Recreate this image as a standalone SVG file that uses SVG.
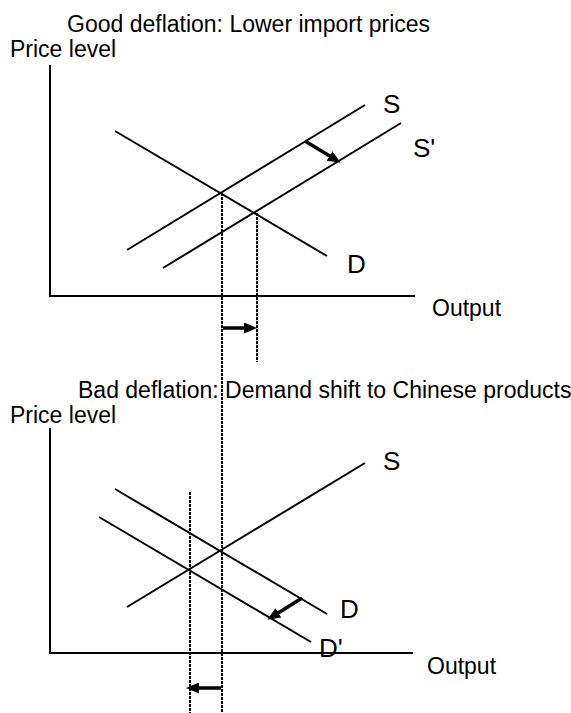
<svg xmlns="http://www.w3.org/2000/svg" width="571" height="713" viewBox="0 0 571 713">
<style>
text{font-family:"Liberation Sans",Arial,sans-serif;fill:#000}
.t{font-size:23px}
.lb{font-size:26px}
.ln{stroke:#000;stroke-width:2;fill:none}
.dot{stroke:#000;stroke-width:2;stroke-dasharray:3 1;fill:none}
.arr{stroke:#000;stroke-width:3.5;fill:none;marker-end:url(#ah)}
</style>
<defs>
<marker id="ah" markerUnits="userSpaceOnUse" markerWidth="13" markerHeight="11" refX="4" refY="5.5" orient="auto">
<path d="M0,0 L13,5.5 L0,11 z" fill="#000"/>
</marker>
</defs>
<rect width="571" height="713" fill="#fff"/>
<g id="top-chart">
<text class="t" x="67" y="32">Good deflation: Lower import prices</text>
<text class="t" x="10" y="57">Price level</text>
<line class="ln" x1="50" y1="65" x2="50" y2="296"/>
<line class="ln" x1="49" y1="296" x2="415" y2="296"/>
<text class="t" x="432" y="316">Output</text>
<line class="ln" x1="127" y1="250" x2="365" y2="105"/>
<line class="ln" x1="163" y1="268" x2="401" y2="123"/>
<line class="ln" x1="115" y1="131" x2="327" y2="256"/>
<text class="lb" x="383" y="113">S</text>
<text class="lb" x="413" y="157">S'</text>
<text class="lb" x="347" y="273">D</text>
</g>
<g id="bottom-chart">
<text class="t" x="78" y="398">Bad deflation: Demand shift to Chinese products</text>
<text class="t" x="10" y="423">Price level</text>
<line class="ln" x1="50" y1="428" x2="50" y2="653"/>
<line class="ln" x1="49" y1="653" x2="413" y2="653"/>
<text class="t" x="427" y="674">Output</text>
<line class="ln" x1="127" y1="607" x2="365" y2="463"/>
<line class="ln" x1="115" y1="489" x2="327" y2="614"/>
<line class="ln" x1="99" y1="517" x2="311" y2="642"/>
<text class="lb" x="383" y="470">S</text>
<text class="lb" x="340" y="618">D</text>
<text class="lb" x="319" y="657">D'</text>
</g>
<g id="connectors">
<line class="dot" x1="222" y1="193" x2="222" y2="713"/>
<line class="dot" x1="257" y1="213" x2="257" y2="362"/>
<line class="dot" x1="190" y1="492" x2="190" y2="713"/>
<line class="arr" x1="305" y1="141" x2="333" y2="158"/>
<line class="arr" x1="223" y1="328" x2="248" y2="328"/>
<line class="arr" x1="302" y1="598" x2="275" y2="615"/>
<line class="arr" x1="221" y1="688" x2="195" y2="688"/>
</g>
</svg>
